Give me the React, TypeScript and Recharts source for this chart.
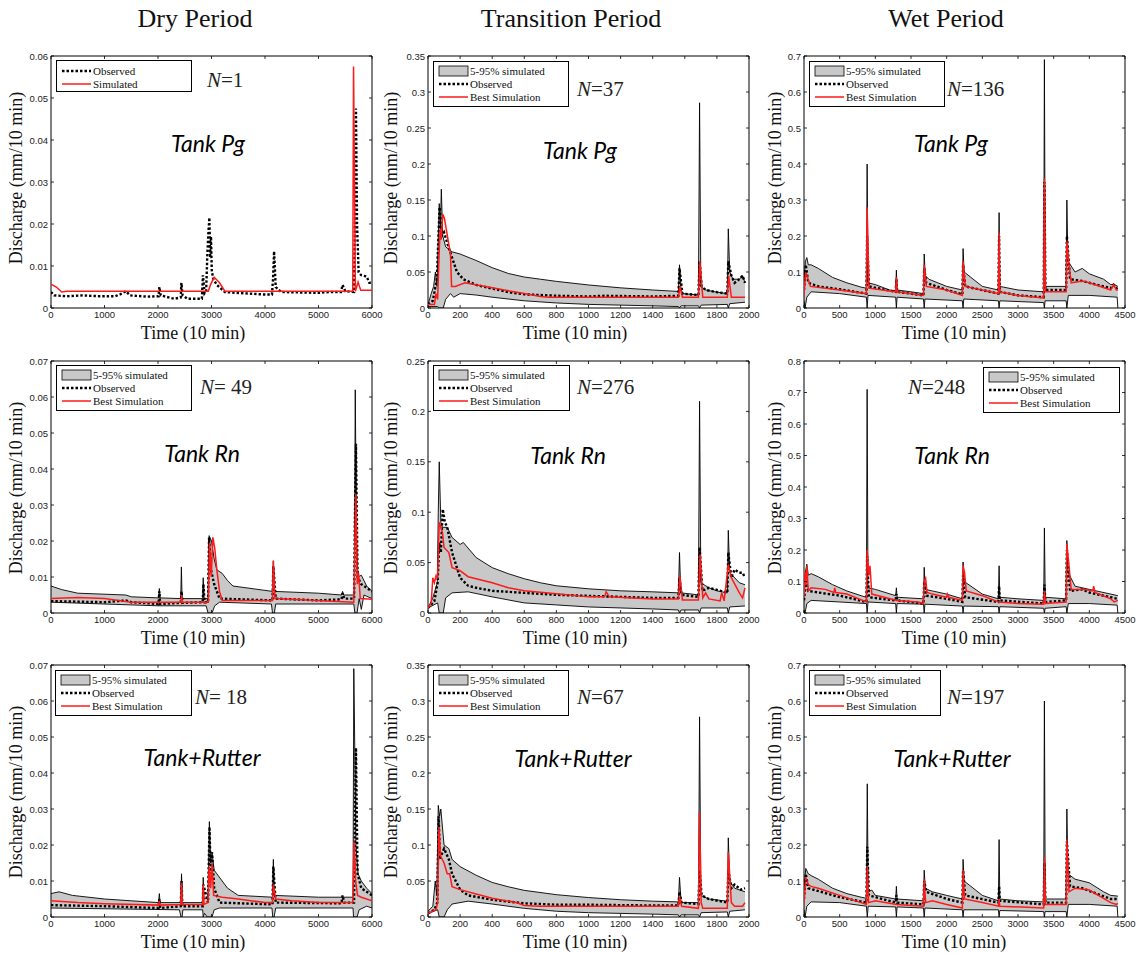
import React from 'react';
import { ComposedChart, Area, Line, XAxis, YAxis, ReferenceArea } from 'recharts';

type Pt = [number, number];

// ---- data (time in 10-min steps, discharge in mm/10 min) ----
const dryTicks = [0, 1000, 2000, 3000, 4000, 5000, 6000];
const transTicks = [0, 200, 400, 600, 800, 1000, 1200, 1400, 1600, 1800, 2000];
const wetTicks = [0, 500, 1000, 1500, 2000, 2500, 3000, 3500, 4000, 4500];

const yTicks006 = [0, 0.01, 0.02, 0.03, 0.04, 0.05, 0.06];
const yTicks007 = [0, 0.01, 0.02, 0.03, 0.04, 0.05, 0.06, 0.07];
const yTicks035 = [0, 0.05, 0.1, 0.15, 0.2, 0.25, 0.3, 0.35];
const yTicks025 = [0, 0.05, 0.1, 0.15, 0.2, 0.25];
const yTicks07 = [0, 0.1, 0.2, 0.3, 0.4, 0.5, 0.6, 0.7];
const yTicks08 = [0, 0.1, 0.2, 0.3, 0.4, 0.5, 0.6, 0.7, 0.8];

// Dry period, Tank Pg
const dryPgObs: Pt[] = [[0, 0.0038], [60, 0.003], [300, 0.0028], [600, 0.003], [900, 0.0028], [1200, 0.0028], [1300, 0.0033], [1400, 0.004], [1480, 0.003], [1800, 0.0027], [2010, 0.0028], [2025, 0.005], [2050, 0.003], [2300, 0.0022], [2425, 0.0025], [2437, 0.006], [2460, 0.003], [2550, 0.0022], [2820, 0.0022], [2840, 0.0078], [2870, 0.0035], [2900, 0.004], [2920, 0.012], [2940, 0.0175], [2960, 0.0215], [2975, 0.012], [2990, 0.017], [3005, 0.009], [3030, 0.007], [3100, 0.0055], [3250, 0.0038], [3600, 0.0035], [4000, 0.0032], [4130, 0.0032], [4150, 0.0068], [4170, 0.0135], [4200, 0.005], [4300, 0.0038], [5000, 0.0036], [5200, 0.0038], [5420, 0.0038], [5450, 0.0055], [5500, 0.004], [5665, 0.0038], [5680, 0.02], [5700, 0.0475], [5720, 0.02], [5750, 0.0085], [5800, 0.0078], [5900, 0.0075], [5950, 0.006], [6000, 0.006]];
const dryPgSim: Pt[] = [[0, 0.0057], [100, 0.005], [200, 0.0038], [300, 0.004], [2940, 0.004], [2980, 0.0055], [3050, 0.0073], [3150, 0.006], [3250, 0.004], [5640, 0.004], [5655, 0.0575], [5690, 0.004], [5740, 0.0062], [5790, 0.0042], [6000, 0.0042]];

// Transition period, Tank Pg
const trPgHi: Pt[] = [[0, 0.005], [20, 0.02], [35, 0.03], [46, 0.05], [56, 0.03], [70, 0.145], [77, 0.11], [83, 0.165], [92, 0.1], [110, 0.085], [150, 0.078], [200, 0.075], [300, 0.066], [400, 0.056], [500, 0.048], [600, 0.043], [700, 0.04], [800, 0.037], [1000, 0.032], [1200, 0.028], [1400, 0.025], [1560, 0.023], [1567, 0.06], [1577, 0.025], [1590, 0.02], [1685, 0.018], [1692, 0.285], [1700, 0.03], [1730, 0.025], [1800, 0.022], [1865, 0.02], [1871, 0.11], [1880, 0.05], [1900, 0.04], [1940, 0.04], [1960, 0.045], [1975, 0.035]];
const trPgLo: Pt[] = [[0, 0.002], [60, 0.002], [70, 0], [95, 0], [110, 0.012], [140, 0.02], [160, 0.015], [200, 0.02], [300, 0.018], [400, 0.015], [600, 0.01], [800, 0.007], [1000, 0.005], [1200, 0.004], [1400, 0.003], [1560, 0.002], [1567, 0], [1577, 0.003], [1685, 0.003], [1692, 0], [1702, 0.004], [1865, 0.005], [1871, 0], [1880, 0.006], [1975, 0.008]];
const trPgObs: Pt[] = [[0, 0.005], [30, 0.01], [55, 0.04], [72, 0.14], [85, 0.1], [100, 0.105], [120, 0.09], [150, 0.07], [180, 0.05], [220, 0.04], [300, 0.032], [400, 0.027], [500, 0.022], [600, 0.019], [800, 0.017], [1000, 0.016], [1100, 0.017], [1400, 0.016], [1560, 0.017], [1567, 0.055], [1585, 0.02], [1685, 0.018], [1692, 0.065], [1705, 0.03], [1730, 0.025], [1800, 0.022], [1865, 0.02], [1871, 0.065], [1890, 0.045], [1910, 0.035], [1940, 0.04], [1960, 0.045], [1975, 0.035]];
const trPgSim: Pt[] = [[0, 0.005], [40, 0.005], [50, 0.02], [60, 0.012], [70, 0.08], [76, 0.11], [82, 0.095], [92, 0.13], [102, 0.125], [140, 0.075], [147, 0.03], [170, 0.03], [230, 0.035], [400, 0.028], [600, 0.02], [700, 0.016], [750, 0.015], [1560, 0.015], [1570, 0.03], [1585, 0.015], [1685, 0.015], [1694, 0.065], [1712, 0.015], [1865, 0.015], [1873, 0.045], [1890, 0.015], [1975, 0.015]];

// Wet period, Tank Pg
const wetPgHi: Pt[] = [[0, 0.08], [20, 0.13], [40, 0.14], [60, 0.12], [100, 0.12], [200, 0.11], [400, 0.085], [600, 0.07], [800, 0.058], [875, 0.055], [885, 0.4], [897, 0.07], [1000, 0.065], [1200, 0.05], [1285, 0.048], [1295, 0.105], [1305, 0.05], [1500, 0.045], [1675, 0.04], [1685, 0.15], [1700, 0.09], [1750, 0.08], [2000, 0.06], [2220, 0.05], [2230, 0.165], [2245, 0.1], [2500, 0.06], [2725, 0.05], [2735, 0.265], [2745, 0.06], [3000, 0.05], [3360, 0.045], [3370, 0.69], [3382, 0.06], [3675, 0.06], [3685, 0.3], [3700, 0.13], [3800, 0.1], [3900, 0.11], [4000, 0.095], [4200, 0.08], [4300, 0.065], [4350, 0.065], [4400, 0.06]];
const wetPgLo: Pt[] = [[0, 0.02], [15, 0], [40, 0.03], [100, 0.045], [500, 0.04], [875, 0.03], [885, 0], [897, 0.035], [1285, 0.03], [1295, 0], [1305, 0.03], [1675, 0.025], [1685, 0], [1695, 0.025], [2220, 0.02], [2230, 0], [2240, 0.025], [2725, 0.02], [2735, 0], [2745, 0.02], [3360, 0.015], [3370, 0], [3380, 0.02], [3675, 0.02], [3685, 0], [3705, 0.035], [4000, 0.035], [4390, 0.03], [4400, 0]];
const wetPgObs: Pt[] = [[0, 0.05], [25, 0.12], [60, 0.07], [200, 0.06], [500, 0.052], [875, 0.04], [885, 0.2], [910, 0.06], [1285, 0.045], [1295, 0.08], [1305, 0.045], [1675, 0.035], [1685, 0.11], [1715, 0.07], [2000, 0.05], [2220, 0.038], [2230, 0.12], [2260, 0.06], [2725, 0.04], [2735, 0.2], [2745, 0.045], [3000, 0.035], [3360, 0.03], [3370, 0.35], [3385, 0.05], [3675, 0.05], [3685, 0.2], [3730, 0.08], [3900, 0.075], [4300, 0.055], [4340, 0.065], [4400, 0.05]];
const wetPgSim: Pt[] = [[0, 0.04], [25, 0.1], [90, 0.06], [500, 0.05], [875, 0.04], [885, 0.28], [910, 0.055], [1285, 0.045], [1295, 0.085], [1305, 0.045], [1675, 0.035], [1685, 0.12], [1715, 0.06], [2000, 0.05], [2220, 0.035], [2230, 0.13], [2260, 0.06], [2725, 0.04], [2735, 0.21], [2745, 0.045], [3000, 0.035], [3360, 0.028], [3370, 0.36], [3385, 0.045], [3675, 0.045], [3685, 0.185], [3715, 0.12], [3745, 0.07], [3900, 0.075], [4000, 0.07], [4300, 0.05], [4340, 0.065], [4380, 0.05], [4400, 0.05]];

// Dry period, Tank Rn
const dryRnHi: Pt[] = [[0, 0.0075], [200, 0.0065], [500, 0.0055], [1400, 0.005], [1500, 0.0045], [2010, 0.0042], [2025, 0.0068], [2040, 0.0042], [2425, 0.004], [2437, 0.0128], [2450, 0.004], [2835, 0.004], [2845, 0.0098], [2860, 0.004], [2935, 0.004], [2955, 0.0215], [3000, 0.02], [3050, 0.015], [3100, 0.012], [3200, 0.011], [3300, 0.009], [3400, 0.0075], [4140, 0.006], [4156, 0.0145], [4175, 0.006], [5000, 0.0055], [5430, 0.005], [5450, 0.006], [5470, 0.005], [5670, 0.005], [5687, 0.062], [5710, 0.02], [5740, 0.01], [5800, 0.0105], [5900, 0.0075], [6000, 0.006]];
const dryRnLo: Pt[] = [[0, 0.003], [1000, 0.0025], [2000, 0.002], [2900, 0.002], [2935, 0], [3010, 0], [3060, 0.002], [3150, 0.003], [4120, 0.0025], [4140, 0], [4175, 0], [4200, 0.0025], [5660, 0.0025], [5680, 0], [5720, 0], [5760, 0.004], [5800, 0.001], [5850, 0.005], [6000, 0.004]];
const dryRnObs: Pt[] = [[0, 0.0033], [1000, 0.003], [1400, 0.0035], [1500, 0.003], [2010, 0.0025], [2025, 0.006], [2040, 0.0025], [2425, 0.0028], [2440, 0.006], [2455, 0.0028], [2835, 0.003], [2850, 0.008], [2870, 0.003], [2935, 0.003], [2955, 0.021], [2990, 0.012], [3050, 0.008], [3150, 0.004], [4140, 0.0035], [4156, 0.013], [4200, 0.004], [5000, 0.0035], [5430, 0.0038], [5450, 0.0055], [5480, 0.004], [5665, 0.004], [5680, 0.025], [5700, 0.047], [5730, 0.01], [5800, 0.008], [5900, 0.007], [6000, 0.006]];
const dryRnSim: Pt[] = [[0, 0.004], [500, 0.0043], [1000, 0.004], [1500, 0.003], [2430, 0.003], [2440, 0.005], [2455, 0.003], [2940, 0.003], [2965, 0.0195], [2995, 0.01], [3025, 0.021], [3060, 0.018], [3100, 0.012], [3150, 0.006], [3200, 0.0035], [4140, 0.0035], [4156, 0.0145], [4185, 0.004], [5660, 0.003], [5680, 0.02], [5700, 0.033], [5725, 0.008], [5750, 0.011], [5780, 0.004], [6000, 0.0038]];

// Transition period, Tank Rn
const trRnHi: Pt[] = [[0, 0.005], [30, 0.015], [58, 0.03], [64, 0.1], [70, 0.15], [80, 0.09], [90, 0.085], [120, 0.085], [150, 0.075], [200, 0.068], [220, 0.07], [300, 0.055], [400, 0.045], [500, 0.039], [600, 0.034], [700, 0.03], [800, 0.027], [1000, 0.024], [1200, 0.022], [1400, 0.021], [1560, 0.02], [1567, 0.06], [1575, 0.02], [1685, 0.018], [1692, 0.21], [1700, 0.03], [1750, 0.025], [1800, 0.022], [1865, 0.02], [1871, 0.082], [1880, 0.04], [1940, 0.03], [1975, 0.028]];
const trRnLo: Pt[] = [[0, 0.005], [60, 0.01], [70, 0], [95, 0], [110, 0.015], [150, 0.02], [250, 0.021], [400, 0.016], [600, 0.01], [800, 0.008], [1000, 0.006], [1400, 0.004], [1560, 0.003], [1567, 0], [1577, 0.003], [1685, 0.003], [1692, 0], [1702, 0.005], [1865, 0.005], [1871, 0], [1880, 0.006], [1975, 0.007]];
const trRnObs: Pt[] = [[0, 0.005], [40, 0.012], [60, 0.03], [70, 0.07], [80, 0.06], [92, 0.103], [105, 0.09], [120, 0.085], [150, 0.06], [200, 0.035], [250, 0.027], [300, 0.025], [400, 0.022], [500, 0.021], [600, 0.02], [800, 0.018], [1000, 0.017], [1200, 0.016], [1400, 0.015], [1560, 0.015], [1567, 0.035], [1580, 0.018], [1685, 0.016], [1692, 0.065], [1710, 0.022], [1750, 0.025], [1800, 0.023], [1865, 0.02], [1871, 0.06], [1890, 0.035], [1910, 0.043], [1940, 0.04], [1960, 0.04], [1975, 0.035]];
const trRnSim: Pt[] = [[0, 0.005], [20, 0.01], [30, 0.035], [40, 0.03], [50, 0.037], [60, 0.035], [70, 0.09], [90, 0.08], [100, 0.065], [130, 0.06], [150, 0.045], [200, 0.042], [250, 0.036], [400, 0.03], [500, 0.025], [600, 0.022], [800, 0.019], [1000, 0.016], [1100, 0.016], [1110, 0.021], [1130, 0.016], [1400, 0.014], [1560, 0.014], [1570, 0.037], [1585, 0.013], [1685, 0.013], [1695, 0.058], [1712, 0.015], [1730, 0.02], [1750, 0.014], [1820, 0.012], [1830, 0.02], [1845, 0.012], [1871, 0.048], [1890, 0.035], [1940, 0.02], [1960, 0.015], [1975, 0.025]];

// Wet period, Tank Rn
const wetRnHi: Pt[] = [[0, 0.06], [20, 0.13], [40, 0.155], [60, 0.12], [100, 0.125], [200, 0.115], [400, 0.09], [600, 0.07], [800, 0.055], [875, 0.05], [885, 0.71], [897, 0.08], [1000, 0.075], [1285, 0.055], [1295, 0.08], [1305, 0.05], [1675, 0.045], [1685, 0.145], [1700, 0.075], [1800, 0.07], [2000, 0.06], [2220, 0.045], [2230, 0.162], [2245, 0.1], [2500, 0.06], [2725, 0.045], [2735, 0.15], [2745, 0.05], [3000, 0.045], [3360, 0.04], [3370, 0.27], [3382, 0.05], [3675, 0.045], [3685, 0.23], [3700, 0.13], [3800, 0.085], [4000, 0.075], [4300, 0.06], [4400, 0.055]];
const wetRnLo: Pt[] = [[0, 0.01], [15, 0], [40, 0.03], [100, 0.04], [500, 0.035], [875, 0.03], [885, 0], [897, 0.035], [1285, 0.03], [1295, 0], [1305, 0.03], [1675, 0.028], [1685, 0], [1695, 0.028], [2220, 0.022], [2230, 0], [2240, 0.022], [2725, 0.02], [2735, 0], [2745, 0.02], [3360, 0.015], [3370, 0], [3380, 0.015], [3675, 0.02], [3685, 0], [3705, 0.03], [4000, 0.03], [4390, 0.025], [4400, 0]];
const wetRnObs: Pt[] = [[0, 0.04], [25, 0.1], [60, 0.07], [500, 0.055], [875, 0.035], [885, 0.18], [910, 0.05], [1285, 0.04], [1295, 0.06], [1305, 0.04], [1675, 0.03], [1685, 0.1], [1715, 0.055], [2000, 0.045], [2220, 0.035], [2230, 0.12], [2260, 0.05], [2725, 0.035], [2735, 0.085], [2745, 0.04], [3360, 0.03], [3370, 0.09], [3385, 0.035], [3675, 0.04], [3685, 0.2], [3730, 0.07], [3900, 0.075], [4000, 0.065], [4300, 0.05], [4400, 0.045]];
const wetRnSim: Pt[] = [[0, 0.05], [15, 0.13], [25, 0.09], [40, 0.15], [60, 0.07], [100, 0.08], [300, 0.075], [420, 0.065], [430, 0.08], [445, 0.065], [600, 0.06], [875, 0.035], [885, 0.2], [910, 0.12], [925, 0.15], [950, 0.06], [1300, 0.04], [1600, 0.035], [1675, 0.03], [1685, 0.1], [1705, 0.11], [1725, 0.065], [1800, 0.06], [2000, 0.05], [2010, 0.06], [2030, 0.05], [2220, 0.04], [2230, 0.15], [2250, 0.13], [2275, 0.07], [2500, 0.055], [2725, 0.035], [3000, 0.03], [3360, 0.028], [3370, 0.07], [3385, 0.03], [3675, 0.035], [3685, 0.22], [3715, 0.15], [3745, 0.075], [3900, 0.075], [4050, 0.07], [4060, 0.085], [4080, 0.065], [4300, 0.045], [4350, 0.035], [4400, 0.04]];

// Dry period, Tank+Rutter
const dryRuHi: Pt[] = [[0, 0.0065], [150, 0.007], [400, 0.006], [1000, 0.005], [1500, 0.0045], [2010, 0.004], [2025, 0.0065], [2040, 0.004], [2425, 0.004], [2440, 0.012], [2455, 0.004], [2835, 0.004], [2845, 0.011], [2860, 0.005], [2935, 0.0055], [2960, 0.0265], [2985, 0.015], [3010, 0.018], [3050, 0.013], [3100, 0.012], [3200, 0.01], [3300, 0.008], [3500, 0.006], [4140, 0.0055], [4156, 0.016], [4175, 0.006], [5000, 0.0055], [5645, 0.0055], [5660, 0.069], [5700, 0.02], [5740, 0.012], [5800, 0.01], [5900, 0.008], [6000, 0.0065]];
const dryRuLo: Pt[] = [[0, 0.0025], [2400, 0.002], [2430, 0], [2450, 0], [2465, 0.002], [2835, 0.002], [2845, 0], [2870, 0.001], [2920, 0], [3010, 0], [3050, 0.002], [3150, 0.0025], [4130, 0.0025], [4145, 0], [4170, 0], [4200, 0.0025], [5645, 0.0025], [5655, 0], [5720, 0], [5760, 0.002], [5900, 0.003], [6000, 0.0025]];
const dryRuObs: Pt[] = [[0, 0.0033], [1000, 0.003], [2010, 0.0025], [2025, 0.005], [2040, 0.0025], [2425, 0.003], [2440, 0.01], [2455, 0.003], [2835, 0.003], [2848, 0.009], [2935, 0.004], [2962, 0.025], [2985, 0.012], [3010, 0.018], [3050, 0.008], [3150, 0.004], [4140, 0.0035], [4156, 0.014], [4200, 0.004], [5430, 0.0038], [5450, 0.006], [5480, 0.004], [5665, 0.004], [5680, 0.025], [5700, 0.047], [5730, 0.012], [5800, 0.008], [6000, 0.006]];
const dryRuSim: Pt[] = [[0, 0.0045], [500, 0.004], [1000, 0.0037], [2010, 0.0033], [2025, 0.0045], [2040, 0.0033], [2425, 0.0035], [2440, 0.0095], [2455, 0.0035], [2835, 0.0035], [2845, 0.009], [2860, 0.0035], [2935, 0.004], [2955, 0.014], [2985, 0.008], [3010, 0.015], [3040, 0.006], [3200, 0.0055], [3500, 0.005], [4000, 0.004], [4140, 0.004], [4156, 0.009], [4200, 0.005], [4500, 0.0045], [5000, 0.004], [5640, 0.004], [5665, 0.021], [5695, 0.01], [5730, 0.006], [5800, 0.0055], [6000, 0.0045]];

// Transition period, Tank+Rutter
const trRuHi: Pt[] = [[0, 0.008], [30, 0.015], [45, 0.05], [55, 0.03], [64, 0.155], [72, 0.14], [80, 0.15], [100, 0.1], [130, 0.095], [150, 0.08], [200, 0.07], [300, 0.058], [400, 0.048], [500, 0.042], [600, 0.037], [800, 0.031], [1000, 0.027], [1200, 0.024], [1400, 0.022], [1560, 0.021], [1567, 0.055], [1577, 0.02], [1685, 0.02], [1692, 0.278], [1700, 0.03], [1750, 0.025], [1865, 0.022], [1871, 0.11], [1880, 0.05], [1910, 0.04], [1975, 0.035]];
const trRuLo: Pt[] = [[0, 0.005], [60, 0.01], [70, 0], [100, 0], [120, 0.01], [150, 0.018], [250, 0.022], [400, 0.018], [600, 0.012], [800, 0.008], [1000, 0.006], [1400, 0.004], [1560, 0.003], [1567, 0], [1577, 0.003], [1685, 0.003], [1692, 0], [1702, 0.006], [1865, 0.007], [1871, 0], [1880, 0.008], [1975, 0.01]];
const trRuObs: Pt[] = [[0, 0.005], [40, 0.01], [58, 0.02], [66, 0.14], [75, 0.08], [90, 0.09], [100, 0.095], [130, 0.08], [150, 0.06], [200, 0.038], [250, 0.03], [400, 0.024], [600, 0.019], [800, 0.017], [1000, 0.017], [1400, 0.016], [1560, 0.016], [1567, 0.035], [1580, 0.02], [1685, 0.018], [1692, 0.065], [1705, 0.03], [1750, 0.025], [1865, 0.02], [1871, 0.065], [1890, 0.04], [1910, 0.045], [1950, 0.038], [1975, 0.04]];
const trRuSim: Pt[] = [[0, 0.005], [50, 0.01], [60, 0.02], [68, 0.125], [78, 0.085], [100, 0.075], [120, 0.06], [135, 0.06], [150, 0.042], [200, 0.038], [300, 0.032], [400, 0.026], [550, 0.02], [600, 0.016], [700, 0.015], [1560, 0.015], [1567, 0.028], [1580, 0.015], [1685, 0.012], [1692, 0.145], [1702, 0.02], [1712, 0.012], [1865, 0.012], [1871, 0.09], [1890, 0.02], [1910, 0.015], [1960, 0.015], [1975, 0.02]];

// Wet period, Tank+Rutter
const wetRuHi: Pt[] = [[0, 0.08], [25, 0.135], [60, 0.12], [100, 0.115], [200, 0.105], [400, 0.08], [600, 0.065], [800, 0.055], [875, 0.052], [887, 0.37], [900, 0.07], [950, 0.075], [1000, 0.06], [1285, 0.05], [1295, 0.085], [1305, 0.05], [1675, 0.045], [1685, 0.13], [1700, 0.08], [1800, 0.07], [2000, 0.06], [2220, 0.05], [2230, 0.16], [2245, 0.1], [2500, 0.06], [2725, 0.045], [2735, 0.215], [2745, 0.05], [3000, 0.045], [3360, 0.042], [3370, 0.6], [3382, 0.05], [3675, 0.05], [3685, 0.3], [3700, 0.12], [3800, 0.105], [4000, 0.095], [4200, 0.07], [4300, 0.06], [4400, 0.058]];
const wetRuLo: Pt[] = [[0, 0.02], [15, 0], [40, 0.03], [100, 0.042], [500, 0.04], [875, 0.03], [887, 0], [900, 0.03], [1285, 0.028], [1295, 0], [1305, 0.028], [1675, 0.025], [1685, 0], [1695, 0.025], [2220, 0.02], [2230, 0], [2240, 0.02], [2725, 0.02], [2735, 0], [2745, 0.018], [3360, 0.015], [3370, 0], [3380, 0.015], [3675, 0.015], [3685, 0], [3705, 0.035], [4000, 0.035], [4390, 0.03], [4400, 0]];
const wetRuObs: Pt[] = [[0, 0.05], [25, 0.12], [60, 0.08], [500, 0.055], [875, 0.04], [887, 0.195], [910, 0.06], [1285, 0.04], [1295, 0.06], [1305, 0.04], [1675, 0.035], [1685, 0.1], [1715, 0.07], [2000, 0.05], [2220, 0.04], [2230, 0.13], [2260, 0.06], [2725, 0.04], [2735, 0.085], [2745, 0.045], [3360, 0.035], [3370, 0.15], [3385, 0.04], [3675, 0.04], [3685, 0.21], [3730, 0.085], [3900, 0.08], [4300, 0.05], [4400, 0.05]];
const wetRuSim: Pt[] = [[0, 0.04], [25, 0.11], [60, 0.09], [100, 0.085], [200, 0.08], [500, 0.06], [800, 0.04], [875, 0.035], [887, 0.14], [905, 0.04], [1000, 0.045], [1300, 0.035], [1675, 0.03], [1685, 0.105], [1705, 0.04], [1800, 0.045], [2000, 0.035], [2220, 0.025], [2230, 0.13], [2250, 0.05], [2500, 0.04], [2725, 0.03], [2735, 0.05], [2745, 0.03], [3360, 0.025], [3370, 0.165], [3385, 0.035], [3675, 0.035], [3685, 0.215], [3715, 0.07], [3800, 0.08], [4000, 0.075], [4300, 0.04], [4380, 0.035], [4400, 0.038]];

// ---- layout ----
const PLOT_W = 321;
const PLOT_H = 252;
const Y_W = 50;
const M_TOP = 10;
const M_RIGHT = 12;
const X_H = 22;
const COL_LEFT = [51, 428, 804];
const ROW_TOP = [56, 361, 665];

const SERIF = '"Liberation Serif", "Times New Roman", serif';
const SANS = '"Liberation Sans", Arial, sans-serif';
const MODEL_FONT = 'Lato, "Open Sans", sans-serif';
const BAND = '#c8c8c8';
const RED = '#ff1a1a';

interface PanelDef {
  col: number;
  row: number;
  xMax: number;
  xTicks: number[];
  yMax: number;
  yTicks: number[];
  hi?: Pt[];
  lo?: Pt[];
  obs: Pt[];
  sim: Pt[];
  n: string;
  nPos: [number, number];
  model: string;
  modelPos: [number, number];
  legend: [number, number, number];
}

const panels: PanelDef[] = [
  { col: 0, row: 0, xMax: 6000, xTicks: dryTicks, yMax: 0.06, yTicks: yTicks006, obs: dryPgObs, sim: dryPgSim, n: '=1', nPos: [207, 81], model: 'Tank Pg', modelPos: [208, 143], legend: [56, 60, 135] },
  { col: 1, row: 0, xMax: 2000, xTicks: transTicks, yMax: 0.35, yTicks: yTicks035, hi: trPgHi, lo: trPgLo, obs: trPgObs, sim: trPgSim, n: '=37', nPos: [577, 90], model: 'Tank Pg', modelPos: [580, 150], legend: [433, 61, 135] },
  { col: 2, row: 0, xMax: 4500, xTicks: wetTicks, yMax: 0.7, yTicks: yTicks07, hi: wetPgHi, lo: wetPgLo, obs: wetPgObs, sim: wetPgSim, n: '=136', nPos: [947, 90], model: 'Tank Pg', modelPos: [951, 143], legend: [809, 61, 135] },
  { col: 0, row: 1, xMax: 6000, xTicks: dryTicks, yMax: 0.07, yTicks: yTicks007, hi: dryRnHi, lo: dryRnLo, obs: dryRnObs, sim: dryRnSim, n: '= 49', nPos: [200, 388], model: 'Tank Rn', modelPos: [202, 453], legend: [56, 365, 135] },
  { col: 1, row: 1, xMax: 2000, xTicks: transTicks, yMax: 0.25, yTicks: yTicks025, hi: trRnHi, lo: trRnLo, obs: trRnObs, sim: trRnSim, n: '=276', nPos: [577, 388], model: 'Tank Rn', modelPos: [568, 455], legend: [433, 365, 136] },
  { col: 2, row: 1, xMax: 4500, xTicks: wetTicks, yMax: 0.8, yTicks: yTicks08, hi: wetRnHi, lo: wetRnLo, obs: wetRnObs, sim: wetRnSim, n: '=248', nPos: [908, 388], model: 'Tank Rn', modelPos: [952, 455], legend: [983, 367, 136] },
  { col: 0, row: 2, xMax: 6000, xTicks: dryTicks, yMax: 0.07, yTicks: yTicks007, hi: dryRuHi, lo: dryRuLo, obs: dryRuObs, sim: dryRuSim, n: '= 18', nPos: [195, 698], model: 'Tank+Rutter', modelPos: [202, 757], legend: [55, 670, 136] },
  { col: 1, row: 2, xMax: 2000, xTicks: transTicks, yMax: 0.35, yTicks: yTicks035, hi: trRuHi, lo: trRuLo, obs: trRuObs, sim: trRuSim, n: '=67', nPos: [577, 698], model: 'Tank+Rutter', modelPos: [573, 758], legend: [433, 670, 135] },
  { col: 2, row: 2, xMax: 4500, xTicks: wetTicks, yMax: 0.7, yTicks: yTicks07, hi: wetRuHi, lo: wetRuLo, obs: wetRuObs, sim: wetRuSim, n: '=197', nPos: [947, 698], model: 'Tank+Rutter', modelPos: [952, 758], legend: [809, 670, 131] },
];

const colTitles = ['Dry Period', 'Transition Period', 'Wet Period'];
const titleX = [195, 571, 946];
const timeLabelX = [193, 575, 954];
const timeLabelY = [333, 638, 942];
const dischargeX = [16, 391, 775];
const dischargeY = [178, 488, 792];

// merge the per-series point lists into one row per time stamp
function buildRows(series: Record<string, Pt[] | undefined>) {
  const map = new Map<number, any>();
  const keys = Object.keys(series).filter((k) => series[k]);
  for (const k of keys) {
    for (const [t, v] of series[k] as Pt[]) {
      const row = map.get(t) ?? { t };
      row[k] = v;
      map.set(t, row);
    }
  }
  const rows = [...map.values()].sort((a, b) => a.t - b.t);
  rows.forEach((r) => keys.forEach((k) => { if (r[k] === undefined) r[k] = null; }));
  return rows;
}

const xTick = (props: any) => {
  const { x, y, payload } = props;
  return (
    <g>
      <line x1={x} x2={x} y1={y} y2={y - 3} stroke="#000" strokeWidth={0.8} />
      <line x1={x} x2={x} y1={y - PLOT_H} y2={y - PLOT_H + 3} stroke="#000" strokeWidth={0.8} />
      <text x={x} y={y + 10} textAnchor="middle" fontSize={9.5} fontFamily={SANS} fill="#222">{payload.value}</text>
    </g>
  );
};

const yTick = (props: any) => {
  const { x, y, payload } = props;
  return (
    <g>
      <line x1={x} x2={x + 3} y1={y} y2={y} stroke="#000" strokeWidth={0.8} />
      <line x1={x + PLOT_W} x2={x + PLOT_W - 3} y1={y} y2={y} stroke="#000" strokeWidth={0.8} />
      <text x={x - 3} y={y + 3.5} textAnchor="end" fontSize={9.5} fontFamily={SANS} fill="#222">{payload.value}</text>
    </g>
  );
};

function LegendBox({ x, y, w, band }: { x: number; y: number; w: number; band: boolean }) {
  const rows = band
    ? [{ kind: 'band', label: '5-95% simulated' }, { kind: 'obs', label: 'Observed' }, { kind: 'sim', label: 'Best Simulation' }]
    : [{ kind: 'obs', label: 'Observed' }, { kind: 'sim', label: 'Simulated' }];
  const h = band ? 45 : 31;
  const y0 = band ? 10 : 11;
  return (
    <svg width={w + 1} height={h + 1} style={{ position: 'absolute', left: x, top: y }}>
      <rect x={0.5} y={0.5} width={w} height={h} fill="#fff" stroke="#000" strokeWidth={1} />
      {rows.map((r, i) => {
        const cy = y0 + i * 13;
        return (
          <g key={r.label}>
            {r.kind === 'band' && <rect x={6} y={cy - 5} width={29} height={10} fill={BAND} stroke="#000" strokeWidth={0.8} />}
            {r.kind === 'obs' && <line x1={6} x2={35} y1={cy} y2={cy} stroke="#000" strokeWidth={2.5} strokeDasharray="2.5 2" />}
            {r.kind === 'sim' && <line x1={6} x2={35} y1={cy} y2={cy} stroke={RED} strokeWidth={1.5} />}
            <text x={37} y={cy + 4} fontSize={11} fontFamily={SERIF} fill="#111">{r.label}</text>
          </g>
        );
      })}
    </svg>
  );
}

function Panel({ p }: { p: PanelDef }) {
  const data = buildRows({ hi: p.hi, lo: p.lo, obs: p.obs, sim: p.sim });
  const left = COL_LEFT[p.col] - Y_W;
  const top = ROW_TOP[p.row] - M_TOP;
  return (
    <div style={{ position: 'absolute', left, top }}>
      <ComposedChart
        width={Y_W + PLOT_W + M_RIGHT}
        height={M_TOP + PLOT_H + X_H}
        data={data}
        margin={{ top: M_TOP, right: M_RIGHT, bottom: 0, left: 0 }}
      >
        {p.hi && (
          <Area type="linear" dataKey="hi" stroke="#000" strokeWidth={0.9} fill={BAND} fillOpacity={1}
            connectNulls dot={false} activeDot={false} isAnimationActive={false} />
        )}
        {p.lo && (
          <Area type="linear" dataKey="lo" stroke="#000" strokeWidth={0.9} fill="#fff" fillOpacity={1}
            connectNulls dot={false} activeDot={false} isAnimationActive={false} />
        )}
        <Line type="linear" dataKey="obs" stroke="#000" strokeWidth={2.4} strokeDasharray="2.4 2"
          connectNulls dot={false} activeDot={false} isAnimationActive={false} />
        <Line type="linear" dataKey="sim" stroke={RED} strokeWidth={1.5}
          connectNulls dot={false} activeDot={false} isAnimationActive={false} />
        <ReferenceArea x1={0} x2={p.xMax} y1={0} y2={p.yMax} fill="none" fillOpacity={0} stroke="#000" strokeWidth={1} ifOverflow="visible" />
        <XAxis type="number" dataKey="t" domain={[0, p.xMax]} ticks={p.xTicks} interval={0} allowDataOverflow
          height={X_H} axisLine={false} tickLine={false} tickSize={0} tickMargin={0} tick={xTick} />
        <YAxis type="number" domain={[0, p.yMax]} ticks={p.yTicks} interval={0} allowDataOverflow
          width={Y_W} axisLine={false} tickLine={false} tickSize={0} tickMargin={0} tick={yTick} />
      </ComposedChart>
    </div>
  );
}

const centered: React.CSSProperties = { position: 'absolute', transform: 'translate(-50%, -50%)', whiteSpace: 'nowrap', lineHeight: 1 };

export default function App() {
  return (
    <div style={{ position: 'absolute', left: 0, top: 0, width: 1137, height: 953, background: '#fff', overflow: 'hidden' }}>
      {colTitles.map((t, i) => (
        <div key={t} style={{ ...centered, left: titleX[i], top: 19, fontFamily: SERIF, fontSize: 26, color: '#111' }}>{t}</div>
      ))}
      {panels.map((p, i) => (
        <React.Fragment key={i}>
          <Panel p={p} />
          <LegendBox x={p.legend[0]} y={p.legend[1]} w={p.legend[2]} band={!!p.hi} />
          <div style={{ position: 'absolute', left: p.nPos[0], top: p.nPos[1] - 11, fontFamily: SERIF, fontSize: 21, lineHeight: 1, whiteSpace: 'nowrap', color: '#222' }}>
            <i>N</i>{p.n}
          </div>
          <div style={{ ...centered, left: p.modelPos[0], top: p.modelPos[1], fontFamily: MODEL_FONT, fontStyle: 'italic', fontSize: 23, color: '#000' }}>{p.model}</div>
          <div style={{ ...centered, left: timeLabelX[p.col], top: timeLabelY[p.row], fontFamily: SERIF, fontSize: 18, color: '#111' }}>Time (10 min)</div>
          <div style={{ ...centered, left: dischargeX[p.col], top: dischargeY[p.row], transform: 'translate(-50%, -50%) rotate(-90deg)', fontFamily: SERIF, fontSize: 18, color: '#111' }}>Discharge (mm/10 min)</div>
        </React.Fragment>
      ))}
    </div>
  );
}
